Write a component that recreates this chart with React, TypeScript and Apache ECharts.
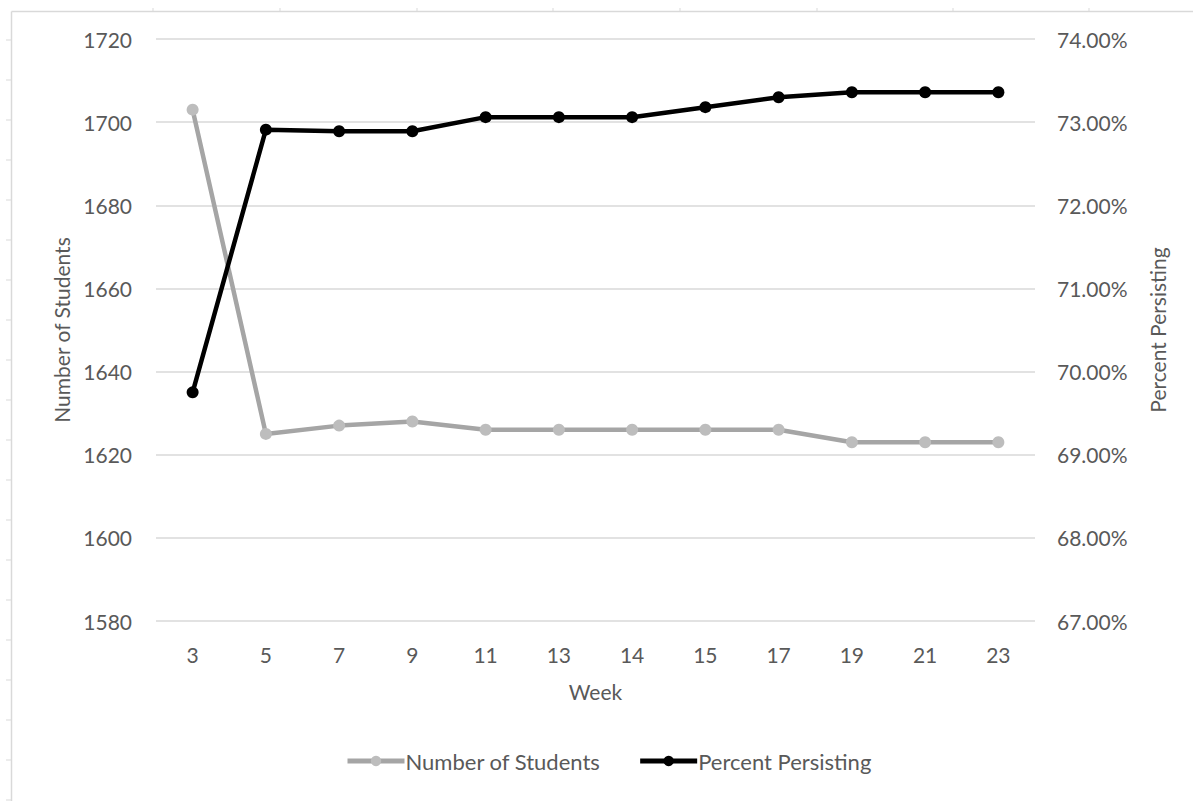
import React, { useEffect, useRef } from "react";
import * as echarts from "echarts";

// Week numbers along the category axis
const weeks: string[] = ["3", "5", "7", "9", "11", "13", "14", "15", "17", "19", "21", "23"];

// Headcount per week (left axis)
const numberOfStudents: number[] = [1703, 1625, 1627, 1628, 1626, 1626, 1626, 1626, 1626, 1623, 1623, 1623];

// Persistence rate per week, in percent (right axis)
const percentPersisting: number[] = [69.75, 72.91, 72.89, 72.89, 73.06, 73.06, 73.06, 73.18, 73.3, 73.36, 73.36, 73.36];

// Sheet cell boundaries drawn around the chart frame
const rowTicks: number[] = [40, 80, 120, 160, 200, 240, 280, 320, 360, 400, 440, 480, 520, 560, 600, 640, 680, 720, 760, 800];
const colTicks: number[] = [153, 280, 417, 553, 680, 817, 953, 1089];

const FONT = "Lato, 'Open Sans', sans-serif";
const TEXT = "#595959";
const FRAME = "#d9d9d9";
const FS = 21;

export default function App() {
  const ref = useRef<HTMLDivElement>(null);

  useEffect(() => {
    if (!ref.current) return;
    const chart = echarts.init(ref.current, null, { renderer: "svg" });

    const frame: any[] = [
      { type: "line", shape: { x1: 11.5, y1: 11.5, x2: 11.5, y2: 801 }, style: { stroke: FRAME, lineWidth: 1.5 } },
      { type: "line", shape: { x1: 11.5, y1: 11.5, x2: 1193, y2: 11.5 }, style: { stroke: FRAME, lineWidth: 1.5 } },
      ...rowTicks.map((y) => ({
        type: "line",
        shape: { x1: 6, y1: y, x2: 11, y2: y },
        style: { stroke: FRAME, lineWidth: 1 },
      })),
      ...colTicks.map((x) => ({
        type: "line",
        shape: { x1: x, y1: 8, x2: x, y2: 11 },
        style: { stroke: FRAME, lineWidth: 1 },
      })),
    ];

    chart.setOption({
      animation: false,
      backgroundColor: "#ffffff",
      textStyle: { fontFamily: FONT, color: TEXT },
      graphic: frame,
      grid: { left: 156, right: 158, top: 39, bottom: 180, containLabel: false },
      legend: {
        bottom: 24,
        left: 340,
        itemWidth: 57,
        itemHeight: 13,
        itemGap: 37,
        lineStyle: { width: 5 },
        textStyle: { fontFamily: FONT, fontSize: 22, color: TEXT, padding: [0, 0, 0, -4] },
        data: ["Number of Students", "Percent Persisting"],
      },
      xAxis: {
        type: "category",
        data: weeks,
        boundaryGap: true,
        name: "Week",
        nameLocation: "middle",
        nameGap: 60,
        nameTextStyle: { fontFamily: FONT, fontSize: FS, color: TEXT },
        axisLine: { show: false },
        axisTick: { show: false },
        axisLabel: { fontFamily: FONT, fontSize: FS, color: TEXT, margin: 23 },
      },
      yAxis: [
        {
          type: "value",
          min: 1580,
          max: 1720,
          interval: 20,
          name: "Number of Students",
          nameLocation: "middle",
          nameGap: 82,
          nameRotate: 90,
          nameTextStyle: { fontFamily: FONT, fontSize: FS, color: TEXT },
          axisLine: { show: false },
          axisTick: { show: false },
          axisLabel: {
            fontFamily: FONT,
            fontSize: FS,
            color: TEXT,
            margin: 24,
            formatter: (v: number) => String(v),
          },
          splitLine: { show: true, lineStyle: { color: FRAME, width: 1.5 } },
        },
        {
          type: "value",
          min: 67,
          max: 74,
          interval: 1,
          position: "right",
          name: "Percent Persisting",
          nameLocation: "middle",
          nameGap: 112,
          nameRotate: 90,
          nameTextStyle: { fontFamily: FONT, fontSize: FS, color: TEXT },
          axisLine: { show: false },
          axisTick: { show: false },
          axisLabel: {
            fontFamily: FONT,
            fontSize: FS,
            color: TEXT,
            margin: 22,
            formatter: (v: number) => v.toFixed(2) + "%",
          },
          splitLine: { show: false },
        },
      ],
      series: [
        {
          name: "Number of Students",
          type: "line",
          yAxisIndex: 0,
          data: numberOfStudents,
          symbol: "circle",
          symbolSize: 12,
          lineStyle: { color: "#a5a5a5", width: 4.5 },
          itemStyle: { color: "#bdbdbd" },
        },
        {
          name: "Percent Persisting",
          type: "line",
          yAxisIndex: 1,
          data: percentPersisting,
          symbol: "circle",
          symbolSize: 12,
          lineStyle: { color: "#000000", width: 4.5 },
          itemStyle: { color: "#000000" },
          z: 3,
        },
      ],
    });

    return () => chart.dispose();
  }, []);

  return (
    <div
      ref={ref}
      style={{ position: "fixed", left: 0, top: 0, width: 1193, height: 801, background: "#ffffff" }}
    />
  );
}
